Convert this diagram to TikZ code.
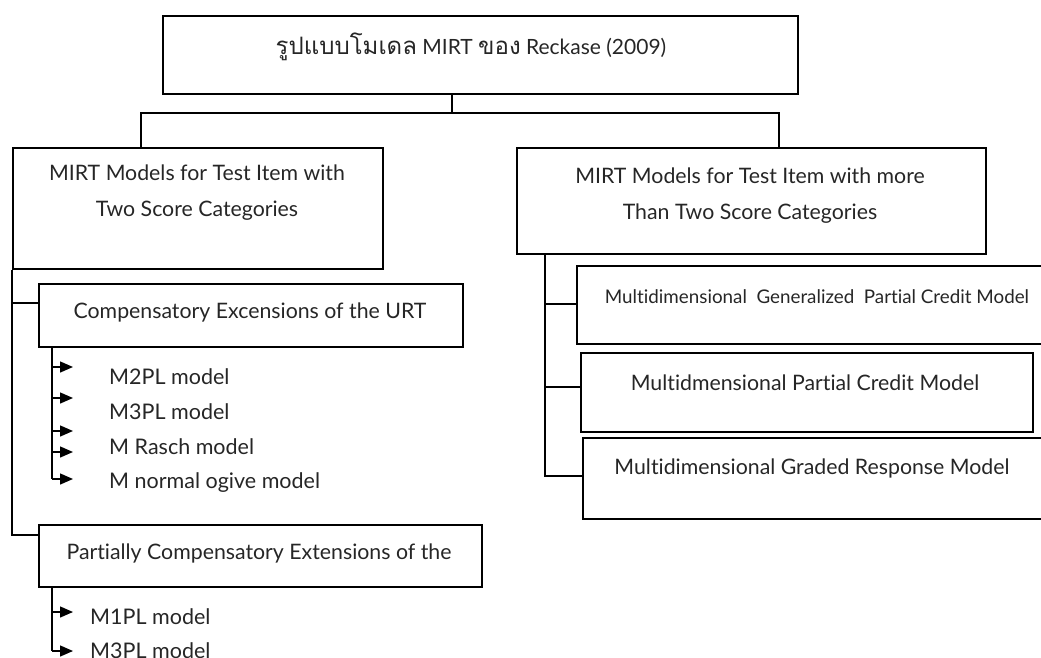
\documentclass[tikz,border=0pt]{standalone}
\usepackage{fontspec}
\setmainfont{Lato}[Ligatures={NoCommon}]
\newfontfamily\thai[Script=Thai]{Loma}
\usetikzlibrary{arrows.meta}
\begin{document}
\begin{tikzpicture}[x=1pt,y=-1pt,
 box/.style={draw, line width=1.6pt, inner sep=0pt, anchor=north west},
 txt/.style={inner sep=0pt, font=\fontsize{21.3}{36}\selectfont, align=center, text=black!85},
 small/.style={inner sep=0pt, font=\fontsize{18.8}{20}\selectfont, text=black!85},
 item/.style={inner sep=0pt, anchor=west, font=\fontsize{21.5}{22}\selectfont, text=black!85},
 ln/.style={line width=1.6pt},
 arr/.style={line width=1.4pt, -{Triangle[length=13pt,width=11pt]}}]
\useasboundingbox (0,0) rectangle (1041,658);
% boxes
\node[box, minimum width=635pt, minimum height=78pt] (top) at (162,15) {};
\node[box, minimum width=370pt, minimum height=121pt] (L1) at (12,147) {};
\node[box, minimum width=469pt, minimum height=106pt] (R1) at (516,147) {};
\node[box, minimum width=424pt, minimum height=63pt] (C) at (38,283) {};
\node[box, minimum width=443pt, minimum height=62pt] (P) at (38,524) {};
\node[box, minimum width=470pt, minimum height=78pt] (G) at (576,265) {};
\node[box, minimum width=452pt, minimum height=79pt] (PC) at (580,352) {};
\node[box, minimum width=465pt, minimum height=81pt] (GR) at (582,437) {};
% texts
\node[txt, font=\fontsize{21}{26}\selectfont] (ttop) at (471,47) {{\thai\fontsize{24}{26}\selectfont รูปแบบโมเดล} MIRT {\thai\fontsize{24}{26}\selectfont ของ} Reckase (2009)};
\node[txt] (tL1) at (197,193) {MIRT Models for Test Item with\\Two Score Categories};
\node[txt] (tR1) at (750,195.5) {MIRT Models for Test Item with more\\Than Two Score Categories};
\node[txt] (tC) at (250,312) {Compensatory Excensions of the URT};
\node[txt] (tP) at (259,553) {Partially Compensatory Extensions of the};
\node[small] (tG) at (817,297) {Multidimensional\ \ Generalized\ \ Partial Credit Model};
\node[txt] (tPC) at (805,383) {Multidmensional Partial Credit Model};
\node[txt] (tGR) at (812,468) {Multidimensional Graded Response Model};
\node[item] (i1) at (109,377) {M2PL model};
\node[item] (i2) at (109,412) {M3PL model};
\node[item] (i3) at (109,447) {M Rasch model};
\node[item] (i4) at (109,483) {M normal ogive model};
\node[item] (j1) at (90,617) {M1PL model};
\node[item] (j2) at (90,651) {M3PL model};
% junction coordinates
\coordinate (jt) at (452,113);
\coordinate (jl) at (141,113);
\coordinate (jr) at (779,113);
\coordinate (cb) at (38,303);
\coordinate (pb) at (38,535);
\coordinate (ct) at (52,479);
\coordinate (pt) at (52,651);
\coordinate (rt) at (545,476);
\coordinate (a1) at (73,367);
\coordinate (a2) at (73,398);
\coordinate (a3) at (73,431);
\coordinate (a4) at (73,452);
\coordinate (a5) at (73,479);
\coordinate (b1) at (73,612);
\coordinate (b2) at (73,651);
\coordinate (g0) at (545,304);
\coordinate (p0) at (545,387);
% connectors
\draw[ln] (top.south -| jt) -- (jt);
\draw[ln] (L1.north -| jl) |- (jr) -- (R1.north -| jr);
\draw[ln] (L1.south west) |- (pb) -- (P.west |- pb);
\draw[ln] (L1.south west |- cb) -- (C.west |- cb);
\draw[ln] (C.south -| ct) -- (ct);
\foreach \a in {a1,a2,a3,a4,a5} \draw[arr] (ct |- \a) -- (\a);
\draw[ln] (P.south -| pt) -- (pt);
\foreach \a in {b1,b2} \draw[arr] (pt |- \a) -- (\a);
\draw[ln] (R1.south -| rt) -- (rt) -- (GR.west |- rt);
\draw[ln] (g0) -- (G.west |- g0);
\draw[ln] (p0) -- (PC.west |- p0);
\end{tikzpicture}
\end{document}
